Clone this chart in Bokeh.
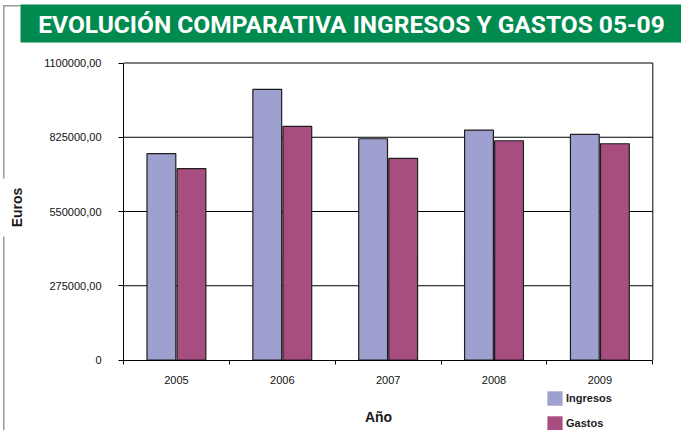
import math
from bokeh.plotting import figure
from bokeh.models import (ColumnDataSource, FixedTicker, BoxAnnotation, Label,
                          Legend, LegendItem)
from bokeh.embed import file_html
from bokeh.resources import INLINE

# ---------------- data ----------------
title_text = "EVOLUCIÓN COMPARATIVA INGRESOS Y GASTOS 05-09"
years = ["2005", "2006", "2007", "2008", "2009"]
ingresos = [764000, 1002000, 819500, 851500, 835500]
gastos = [708500, 865000, 746500, 812000, 801000]
y_ticks = [0, 275000, 550000, 825000, 1100000]
y_tick_labels = ["0", "275000,00", "550000,00", "825000,00", "1100000,00"]
series_names = ["Ingresos", "Gastos"]
x_title = "Año"
y_title = "Euros"

# ---------------- style / layout ----------------
C_ING = "#9EA0D0"
C_GAS = "#A84D80"
GREEN = "#008A50"
FONT = "Liberation Sans"
TITLE_FONT = "Roboto"
EDGE = "#1e1e1e"
GRAYLINE = "#9a9a9a"

FIG_W, FIG_H = 681, 430
AX_L, AX_R = 123.0, 652.3      # pixel columns of the value axis / right border
AX_T, AX_B = 62.5, 359.5       # pixel rows of the top and the zero line

n = len(years)
y_max = y_ticks[-1]
px_x = (AX_R - AX_L) / n
px_y = (AX_B - AX_T) / y_max
x_start = -AX_L / px_x
x_end = x_start + FIG_W / px_x
y_end = y_max + AX_T / px_y
y_start = -(FIG_H - AX_B) / px_y

centers = [i + 0.5 for i in range(n)]
OFF = 0.142
W = 0.272

src = ColumnDataSource(dict(
    x_ing=[c - OFF for c in centers],
    x_gas=[c + OFF for c in centers],
    ingresos=ingresos,
    gastos=gastos,
))

p = figure(frame_width=FIG_W, frame_height=FIG_H, min_border=0,
           x_range=(x_start, x_end), y_range=(y_start, y_end),
           output_backend="svg", toolbar_location=None, title=None)
p.background_fill_color = "white"
p.border_fill_color = "white"
p.outline_line_color = None
p.grid.visible = False

# horizontal grid lines (at the tick values) and right border of the plot box
grid_src = ColumnDataSource(dict(
    x0=[0] * (len(y_ticks) - 1) + [n],
    x1=[n] * (len(y_ticks) - 1) + [n],
    y0=y_ticks[1:] + [0],
    y1=y_ticks[1:] + [y_max],
))
p.segment(x0="x0", x1="x1", y0="y0", y1="y1", source=grid_src,
          line_color="black", line_width=1)

p.vbar(x="x_ing", top="ingresos", width=W, source=src,
       fill_color=C_ING, line_color=EDGE, line_width=1.2)
p.vbar(x="x_gas", top="gastos", width=W, source=src,
       fill_color=C_GAS, line_color=EDGE, line_width=1.2)

# axes fixed at the data origin
yax = p.yaxis[0]
yax.fixed_location = 0
yax.bounds = (0, y_max)
yax.ticker = FixedTicker(ticks=y_ticks)
yax.major_label_overrides = {t: l for t, l in zip(y_ticks, y_tick_labels)}
yax.major_tick_out = 5
yax.major_tick_in = 0
yax.minor_tick_out = 0
yax.minor_tick_in = 0
yax.major_label_standoff = 17
yax.axis_line_color = "black"
yax.major_tick_line_color = "black"
yax.major_label_text_font = FONT
yax.major_label_text_font_size = "11px"
yax.major_label_text_color = "#111111"

xax = p.xaxis[0]
xax.fixed_location = 0
xax.bounds = (0, n)
xax.ticker = FixedTicker(ticks=centers, minor_ticks=list(range(n + 1)))
xax.major_label_overrides = {c: y for c, y in zip(centers, years)}
xax.major_tick_out = 0
xax.major_tick_in = 0
xax.minor_tick_out = 4
xax.minor_tick_in = 0
xax.minor_tick_line_color = "black"
xax.major_label_standoff = 12
xax.axis_line_color = "black"
xax.major_label_text_font = FONT
xax.major_label_text_font_size = "11px"
xax.major_label_text_color = "#111111"

# screen units: origin at bottom-left of the canvas
def sy(page_y):
    return FIG_H - page_y

def box(l, r, t, b, color):
    return BoxAnnotation(left=l, right=r, top=sy(t), bottom=sy(b),
                         left_units="screen", right_units="screen",
                         top_units="screen", bottom_units="screen",
                         fill_color=color, fill_alpha=1, line_color=None,
                         level="overlay")

# gray page frame lines
for (l, r, t, b) in [(2.5, 4, 5, 178), (2.5, 4, 236, 446),
                     (2.5, 20, 4.5, 6), (683, 697, 4.5, 6)]:
    p.add_layout(box(l, r, t, b, GRAYLINE))

# title banner
p.add_layout(box(20, 683, 4, 42, GREEN))
p.add_layout(Label(x=351, y=sy(24), x_units="screen", y_units="screen",
                   text=title_text, text_color="white", text_font=TITLE_FONT,
                   text_font_style="bold", text_font_size="24.5px",
                   text_align="center", text_baseline="middle",
                   level="overlay"))

# axis titles
p.add_layout(Label(x=16, y=sy(207), x_units="screen", y_units="screen",
                   text=y_title, angle=math.pi / 2, text_font=FONT,
                   text_font_style="bold", text_font_size="14px",
                   text_color="#1a1a1a", text_align="center",
                   text_baseline="middle"))
p.add_layout(Label(x=378, y=sy(416), x_units="screen", y_units="screen",
                   text=x_title, text_font=FONT, text_font_style="bold",
                   text_font_size="14px", text_color="#1a1a1a",
                   text_align="center", text_baseline="middle"))

# legend (swatches without outline, from hidden copies of the bar glyphs)
r_ing = p.vbar(x="x_ing", top="ingresos", width=W, source=src,
               fill_color=C_ING, line_color=None, visible=False)
r_gas = p.vbar(x="x_gas", top="gastos", width=W, source=src,
               fill_color=C_GAS, line_color=None, visible=False)
legend = Legend(items=[LegendItem(label=series_names[0], renderers=[r_ing]),
                       LegendItem(label=series_names[1], renderers=[r_gas])],
                location=(545, sy(432)),
                glyph_width=19, glyph_height=18, label_height=18,
                label_standoff=2, spacing=7, padding=0, margin=0,
                border_line_color=None, background_fill_alpha=0,
                label_text_font=FONT, label_text_font_style="bold",
                label_text_font_size="11px", label_text_color="#222222")
p.add_layout(legend, "center")

open("out.html", "w").write(file_html(p, INLINE))
